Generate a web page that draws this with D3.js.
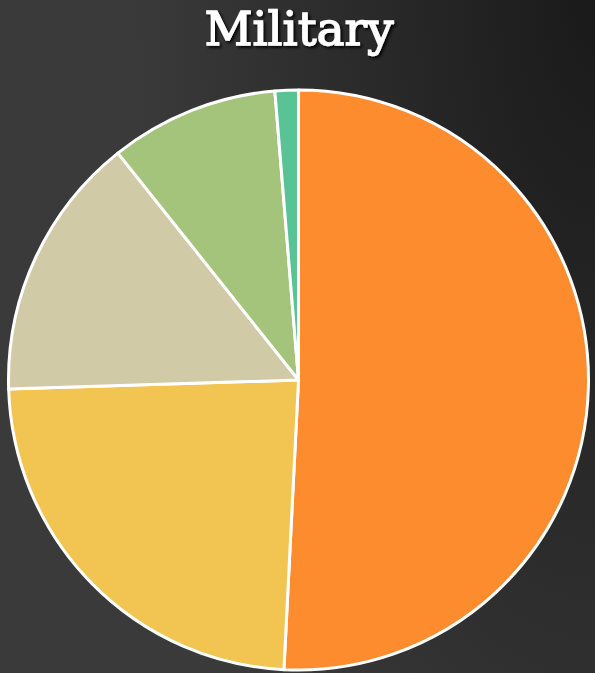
<!DOCTYPE html>
<html>
<head>
<meta charset="utf-8">
<script src="https://cdn.jsdelivr.net/npm/d3@7"></script>
<style>
  html, body { margin: 0; padding: 0; }
  body { width: 595px; height: 673px; overflow: hidden; }
  #chart {
    display: block;
    background: radial-gradient(ellipse 460px 1000px at 100% 0%, #1a1a1a, #3a3a3a);
  }
</style>
</head>
<body>
<svg id="chart" width="595" height="673"></svg>
<script>
const title = "Military";
const categories = ["Share 1", "Share 2", "Share 3", "Share 4", "Share 5"];
const values = [50.8, 23.7, 14.8, 9.4, 1.3];
const colors = ["#fc8c2d", "#f2c452", "#d0caa6", "#a3c47a", "#5ac396"];

const svg = d3.select("#chart");

const defs = svg.append("defs");
const shadow = defs.append("filter").attr("id", "shadow")
  .attr("x", "-20%").attr("y", "-20%").attr("width", "140%").attr("height", "160%");
shadow.append("feDropShadow")
  .attr("dx", 2).attr("dy", 2).attr("stdDeviation", 1.5)
  .attr("flood-color", "#000").attr("flood-opacity", 0.9);

// titulo
svg.append("text")
  .attr("x", 299)
  .attr("y", 45)
  .attr("text-anchor", "middle")
  .attr("font-family", "'DejaVu Serif', serif")
  .attr("font-size", 47)
  .attr("fill", "#fff")
  .attr("stroke", "#fff")
  .attr("stroke-width", 1.4)
  .attr("filter", "url(#shadow)")
  .text(title);

const data = categories.map((c, i) => ({ cat: c, value: values[i] }));
const color = d3.scaleOrdinal().domain(categories).range(colors);

const pie = d3.pie().sort(null).value((d) => d.value);
const arc = d3.arc().innerRadius(0).outerRadius(290);

const g = svg.append("g").attr("transform", "translate(298.5,380)");

g.selectAll("path")
  .data(pie(data))
  .enter()
  .append("path")
  .attr("d", arc)
  .attr("fill", (d) => color(d.data.cat))
  .attr("stroke", "#fff")
  .attr("stroke-width", 3)
  .attr("stroke-linejoin", "round");
</script>
</body>
</html>
